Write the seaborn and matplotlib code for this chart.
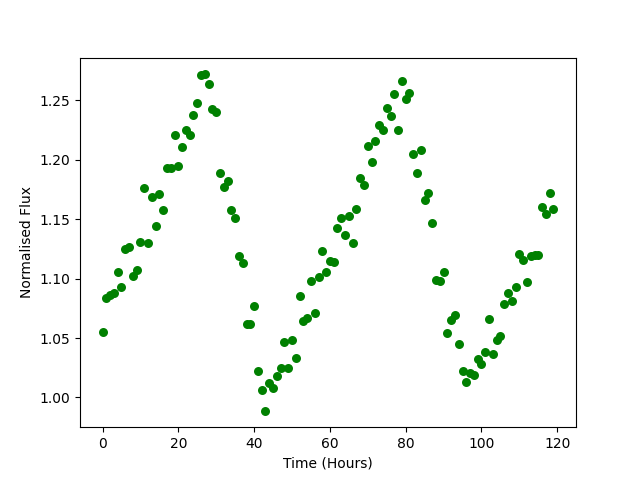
import matplotlib
matplotlib.use("Agg")
import matplotlib.pyplot as plt
import seaborn as sns
import pandas as pd

hours = list(range(120))
flux = [
    1.055, 1.084, 1.086, 1.088, 1.106, 1.093, 1.125, 1.127, 1.102, 1.107,
    1.131, 1.176, 1.130, 1.169, 1.144, 1.171, 1.158, 1.193, 1.193, 1.221,
    1.195, 1.211, 1.225, 1.221, 1.238, 1.248, 1.271, 1.272, 1.264, 1.243,
    1.240, 1.189, 1.177, 1.182, 1.158, 1.151, 1.119, 1.113, 1.062, 1.062,
    1.077, 1.022, 1.006, 0.989, 1.012, 1.008, 1.018, 1.025, 1.047, 1.025,
    1.048, 1.033, 1.085, 1.064, 1.067, 1.098, 1.071, 1.101, 1.123, 1.106,
    1.115, 1.114, 1.143, 1.151, 1.137, 1.153, 1.130, 1.159, 1.185, 1.179,
    1.212, 1.198, 1.216, 1.229, 1.225, 1.244, 1.237, 1.255, 1.225, 1.266,
    1.251, 1.256, 1.205, 1.189, 1.208, 1.166, 1.172, 1.147, 1.099, 1.098,
    1.106, 1.054, 1.065, 1.069, 1.045, 1.022, 1.013, 1.021, 1.019, 1.032,
    1.028, 1.038, 1.066, 1.037, 1.048, 1.052, 1.079, 1.088, 1.081, 1.093,
    1.121, 1.116, 1.097, 1.119, 1.120, 1.120, 1.160, 1.154, 1.172, 1.159,
]

df = pd.DataFrame({"Time (Hours)": hours, "Normalised Flux": flux})

fig, ax = plt.subplots(figsize=(6.4, 4.8), dpi=100)
sns.scatterplot(data=df, x="Time (Hours)", y="Normalised Flux", color="green",
                s=42, linewidth=0, ax=ax)
ax.set_xlabel("Time (Hours)")
ax.set_ylabel("Normalised Flux")
ax.set_xticks([0, 20, 40, 60, 80, 100, 120])
ax.set_xlim(-5.95, 124.95)
ax.set_ylim(0.975, 1.286)
fig.savefig("out.png", dpi=100)
